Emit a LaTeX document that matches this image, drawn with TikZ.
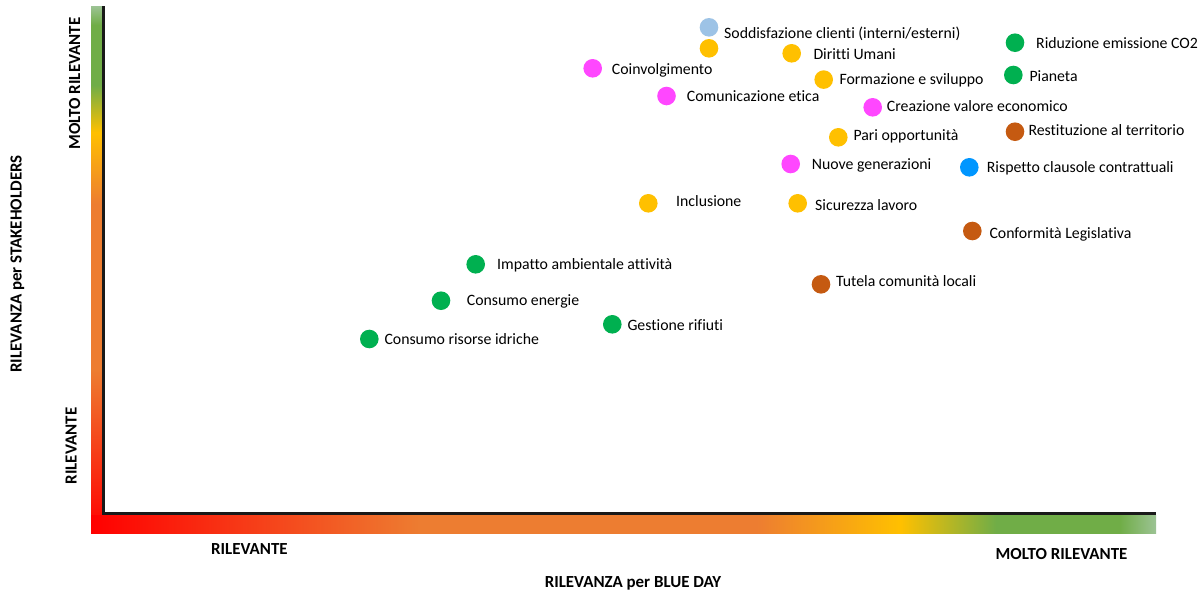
\documentclass[tikz,border=0pt]{standalone}
\usepackage{fontspec}
\setmainfont{Carlito}[Ligatures=NoCommon]
\definecolor{cgold}{HTML}{FFC000}
\definecolor{cgreen}{HTML}{00B050}
\definecolor{cmag}{HTML}{FF47FF}
\definecolor{clblue}{HTML}{9DC3E6}
\definecolor{cbrown}{HTML}{C55A11}
\definecolor{cblue}{HTML}{0096FF}
\definecolor{gred}{HTML}{FF0000}
\definecolor{gorange}{HTML}{ED7D31}
\definecolor{ggold}{HTML}{FFC000}
\definecolor{ggreen}{HTML}{70AD47}
\definecolor{gend}{HTML}{9CC394}
\pgfdeclarehorizontalshading{hbar}{100bp}{color(0bp)=(gred); color(25bp)=(gred); color(40.5bp)=(gorange); color(56.25bp)=(gorange); color(63bp)=(ggold); color(67.5bp)=(ggreen); color(73.3bp)=(ggreen); color(75bp)=(gend); color(100bp)=(gend)}
\pgfdeclareverticalshading{vbar}{100bp}{color(0bp)=(gred); color(25bp)=(gred); color(40.5bp)=(gorange); color(56.25bp)=(gorange); color(63bp)=(ggold); color(67.5bp)=(ggreen); color(73.2bp)=(ggreen); color(75bp)=(gend); color(100bp)=(gend)}
\begin{document}
\begin{tikzpicture}[x=1pt,y=-1pt,
  dot/.style={circle, fill=#1, draw=none, minimum size=18.6pt, inner sep=0pt},
  lbl/.style={anchor=base west, inner sep=0pt, font=\fontsize{15.8}{19}\selectfont},
  axlbl/.style={anchor=base, inner sep=0pt, font=\fontsize{16.9}{20}\selectfont\bfseries},
  axlblw/.style={anchor=base west, inner sep=0pt, font=\fontsize{16.9}{20}\selectfont\bfseries}]
\useasboundingbox (0,0) rectangle (1203,595);
\fill[white] (0,0) rectangle (1203,595);

% gradient bars
\shade[shading=vbar] (91,6) rectangle (102.3,533);
\shade[shading=hbar] (91,515.7) rectangle (1156,533);

% axes
\coordinate (ytop) at (103.8,6);
\coordinate (orig) at (103.8,513.8);
\coordinate (xend) at (1156,513.8);
\draw[line width=3.2pt, black!90] (ytop) -- (orig) -- (xend);

% axis labels
\node[axlbl, rotate=90] (ylab) at (21.7,264) {RILEVANZA per STAKEHOLDERS};
\node[axlbl, rotate=90] (yhi) at (80,83.5) {MOLTO RILEVANTE};
\node[axlbl, rotate=90] (ylo) at (76.7,446) {RILEVANTE};
\node[axlbl] (xlab) at (633,587) {RILEVANZA per BLUE DAY};
\node[axlblw] (xlo) at (211,554) {RILEVANTE};
\node[axlblw] (xhi) at (995.4,559.3) {MOLTO RILEVANTE};

% dots and labels
\node[dot=clblue] (d1) at (709,27.3) {};
\node[lbl] (l1) at (724,38.3) {Soddisfazione clienti (interni/esterni)};
\node[dot=cgold] (d2) at (709,48.3) {};
\node[dot=cgold] (d3) at (791.7,53.3) {};
\node[lbl] (l3) at (813.3,59) {Diritti Umani};
\node[dot=cmag] (d4) at (592.7,68.3) {};
\node[lbl] (l4) at (611.7,74) {Coinvolgimento};
\node[dot=cgold] (d5) at (823.7,79.6) {};
\node[lbl] (l5) at (839.3,84) {Formazione e sviluppo};
\node[dot=cmag] (d6) at (666.5,96) {};
\node[lbl] (l6) at (686.7,101) {Comunicazione etica};
\node[dot=cmag] (d7) at (872.7,107.3) {};
\node[lbl] (l7) at (886.7,111) {Creazione valore economico};
\node[dot=cgreen] (d8) at (1015,42.7) {};
\node[lbl] (l8) at (1036,48.5) {Riduzione emissione CO2};
\node[dot=cgreen] (d9) at (1013.3,75) {};
\node[lbl] (l9) at (1029.3,81) {Pianeta};
\node[dot=cgold] (d10) at (838.3,137.3) {};
\node[lbl] (l10) at (853.3,140) {Pari opportunità};
\node[dot=cbrown] (d11) at (1015,131.7) {};
\node[lbl] (l11) at (1028.3,135.7) {Restituzione al territorio};
\node[dot=cmag] (d12) at (790.7,164) {};
\node[lbl] (l12) at (811.7,169.3) {Nuove generazioni};
\node[dot=cblue] (d13) at (969.3,167.3) {};
\node[lbl] (l13) at (986.7,172.7) {Rispetto clausole contrattuali};
\node[dot=cgold] (d14) at (648.3,203.3) {};
\node[lbl] (l14) at (676,206) {Inclusione};
\node[dot=cgold] (d15) at (797.7,203.3) {};
\node[lbl] (l15) at (815,210) {Sicurezza lavoro};
\node[dot=cbrown] (d16) at (972.3,231) {};
\node[lbl] (l16) at (989.3,238.3) {Conformità Legislativa};
\node[dot=cbrown] (d17) at (821,284.3) {};
\node[lbl] (l17) at (836,286.7) {Tutela comunità locali};
\node[dot=cgreen] (d18) at (475.7,264.3) {};
\node[lbl] (l18) at (497,269.3) {Impatto ambientale attività};
\node[dot=cgreen] (d19) at (441,300.7) {};
\node[lbl] (l19) at (466.7,305) {Consumo energie};
\node[dot=cgreen] (d20) at (612.3,324.3) {};
\node[lbl] (l20) at (627.3,330) {Gestione rifiuti};
\node[dot=cgreen] (d21) at (369.3,339) {};
\node[lbl] (l21) at (384.3,344) {Consumo risorse idriche};
\end{tikzpicture}
\end{document}
